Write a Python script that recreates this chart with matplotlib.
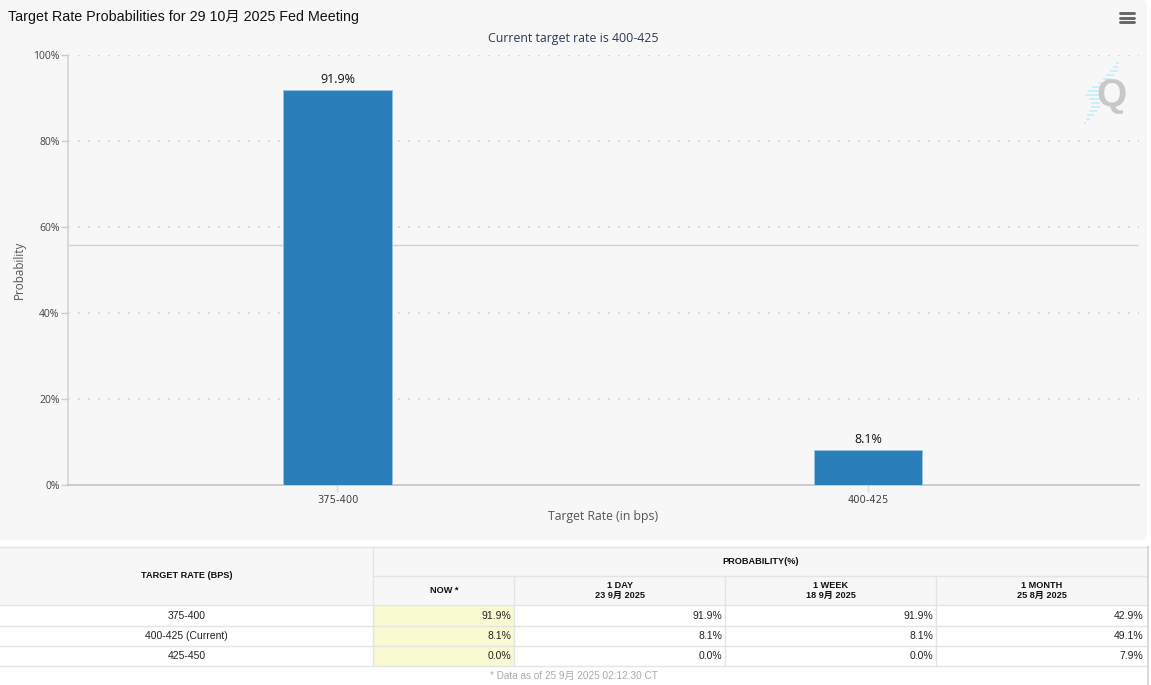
import matplotlib
matplotlib.use("Agg")
import matplotlib.pyplot as plt
from matplotlib.patches import FancyBboxPatch, Rectangle

# ---- data ----
categories = ["375-400", "400-425"]
probabilities = [91.9, 8.1]
bar_labels = ["91.9%", "8.1%"]
y_ticks = [0, 20, 40, 60, 80, 100]
current_rate_line = 55.8

table_rates = ["375-400", "400-425 (Current)", "425-450"]
now_values = ["91.9%", "8.1%", "0.0%"]
day_values = ["91.9%", "8.1%", "0.0%"]
week_values = ["91.9%", "8.1%", "0.0%"]
month_values = ["42.9%", "49.1%", "7.9%"]
col_headers = ["NOW", "1 DAY\n23 9月 2025", "1 WEEK\n18 9月 2025", "1 MONTH\n25 8月 2025"]

W, H = 1151, 685
SANS = ["Liberation Sans", "Noto Sans CJK SC", "DejaVu Sans"]
HC = ["Open Sans", "Noto Sans CJK SC", "DejaVu Sans"]
DV = ["DejaVu Sans"]
plt.rcParams["font.family"] = SANS

fig = plt.figure(figsize=(W / 100, H / 100), dpi=100, facecolor="white")

# overlay in pixel coordinates for the page furniture
bg = fig.add_axes([0, 0, 1, 1], zorder=0)
bg.set_xlim(0, W)
bg.set_ylim(H, 0)
bg.axis("off")
bg.add_patch(FancyBboxPatch((-8, 0), 1155, 540, boxstyle="round,pad=0,rounding_size=5",
                            fc="#f7f7f7", ec="none"))
bg.text(8, 17, "Target Rate Probabilities for 29 10月 2025 Fed Meeting", fontsize=10.3,
        color="#111111", va="center", ha="left")
bg.text(573.5, 38, "Current target rate is 400-425", fontsize=8.9, family=HC,
        color="#2b3a55", va="center", ha="center")
for yy in (13, 17.5, 22):
    bg.plot([1120, 1134], [yy, yy], color="#666666", lw=2.1, solid_capstyle="round")

# watermark: stripes (left edge, width) per row
stripe_y = [62, 66, 70, 74, 78, 82, 86, 90, 94, 98, 102, 106, 110, 114, 118, 122]
stripe_x = [1116, 1113, 1110, 1106, 1103, 1098, 1092, 1088, 1085, 1089, 1091, 1091, 1089, 1087, 1086, 1084]
stripe_w = [3, 5, 8, 8, 7, 6, 10, 13, 15, 11, 9, 9, 8, 7, 4, 2]
for yy, xx, ww in zip(stripe_y, stripe_x, stripe_w):
    bg.add_patch(Rectangle((xx, yy), ww, 1.6, fc="#cdeefb", ec="none"))
bg.text(1112, 96, "Q", fontsize=28, fontweight="bold", color="#c8c8c8", ha="center", va="center",
        family="Liberation Sans")

# chart
ax = fig.add_axes([68 / W, 1 - 485 / H, (1139 - 68) / W, (485 - 55) / H], zorder=2)
ax.patch.set_alpha(0)
ax.set_xlim(-0.508, 1.511)
ax.set_ylim(0, 100)
ax.bar(range(len(categories)), probabilities, width=0.204, color="#2a7fba",
       edgecolor="#9cc4de", linewidth=0.6, zorder=3)
for i, (v, s) in enumerate(zip(probabilities, bar_labels)):
    ax.annotate(s, (i, v), xytext=(0, 7.6), textcoords="offset points", ha="center",
                va="center", fontsize=9, family=HC, color="#111111", zorder=4)
ax.set_xticks(range(len(categories)))
ax.set_xticklabels(categories, fontsize=7.2, family=DV, color="#444444")
ax.set_yticks(y_ticks)
ax.set_yticklabels([f"{t}%" for t in y_ticks], fontsize=7.5, family=HC, color="#444444")
ax.tick_params(axis="x", length=5, color="#dddddd", width=1, pad=2)
ax.tick_params(axis="y", length=5, color="#cccccc", width=1, pad=1)
ax.grid(axis="y", color="#cfcfcf", lw=1.2, linestyle=(0, (1, 5)), zorder=0)
ax.axhline(current_rate_line, color="#d2d2d6", lw=1, zorder=1)
for s in ("top", "right"):
    ax.spines[s].set_visible(False)
ax.spines["left"].set_color("#d4d4d4")
ax.spines["left"].set_linewidth(1.2)
ax.spines["bottom"].set_color("#c4c4c8")
ax.spines["bottom"].set_linewidth(1.2)
ax.set_xlabel("Target Rate (in bps)", fontsize=8.8, family=HC, color="#555555", labelpad=4)
ax.set_ylabel("Probability", fontsize=8.4, family=HC, color="#555555", labelpad=5.5)

# table
tb = fig.add_axes([0, 0, 1, 1], zorder=3)
tb.set_xlim(0, W)
tb.set_ylim(H, 0)
tb.axis("off")
xs = [0, 373.5, 514.5, 725.5, 936.5, 1147]
top, mid, head, bottom = 546.5, 576, 605, 666
row_edges = [605, 625.5, 645.5, 666]
LINE = "#e4e4e4"
tb.add_patch(Rectangle((0, top), xs[-1], head - top, fc="#f7f7f7", ec="none"))
tb.add_patch(Rectangle((xs[1], head), xs[2] - xs[1], bottom - head, fc="#fafad2", ec="none"))


def hline(y, x0=0, x1=xs[-1]):
    tb.plot([x0, x1], [y, y], color=LINE, lw=1)


def vline(x, y0, y1):
    tb.plot([x, x], [y0, y1], color=LINE, lw=1)


hline(top)
hline(mid, xs[1])
for y in row_edges:
    hline(y)
vline(xs[1], top, bottom)
for x in xs[2:-1]:
    vline(x, mid, bottom)
tb.plot([1148, 1148], [top, H], color="#d8d8d8", lw=1.4)

HF = dict(fontsize=6.6, fontweight="bold", color="#111111", ha="center", va="center",
          family=SANS, linespacing=1.1)
tb.text(186.5, 575, "TARGET RATE (BPS)", **HF)
tb.text(xs[1] + (xs[-1] - xs[1]) / 2, 561, "PROBABILITY(%)", **HF)
for j, lab in enumerate(col_headers):
    text = lab + " *" if j == 0 else lab
    tb.text((xs[j + 1] + xs[j + 2]) / 2, 590.5, text, **HF)

columns = [now_values, day_values, week_values, month_values]
for i, rate in enumerate(table_rates):
    yc = (row_edges[i] + row_edges[i + 1]) / 2 + 0.7
    tb.text(186.5, yc, rate, fontsize=7.5, color="#222222", ha="center", va="center")
    for j, col in enumerate(columns):
        tb.text(xs[j + 2] - 3.5, yc, col[i], fontsize=7.5, color="#222222", ha="right", va="center")

tb.text(573.5, 675.5, "* Data as of 25 9月 2025 02:12:30 CT", fontsize=7.2, color="#aaaaaa",
        ha="center", va="center")

fig.savefig("out.png", dpi=100, facecolor="white")
